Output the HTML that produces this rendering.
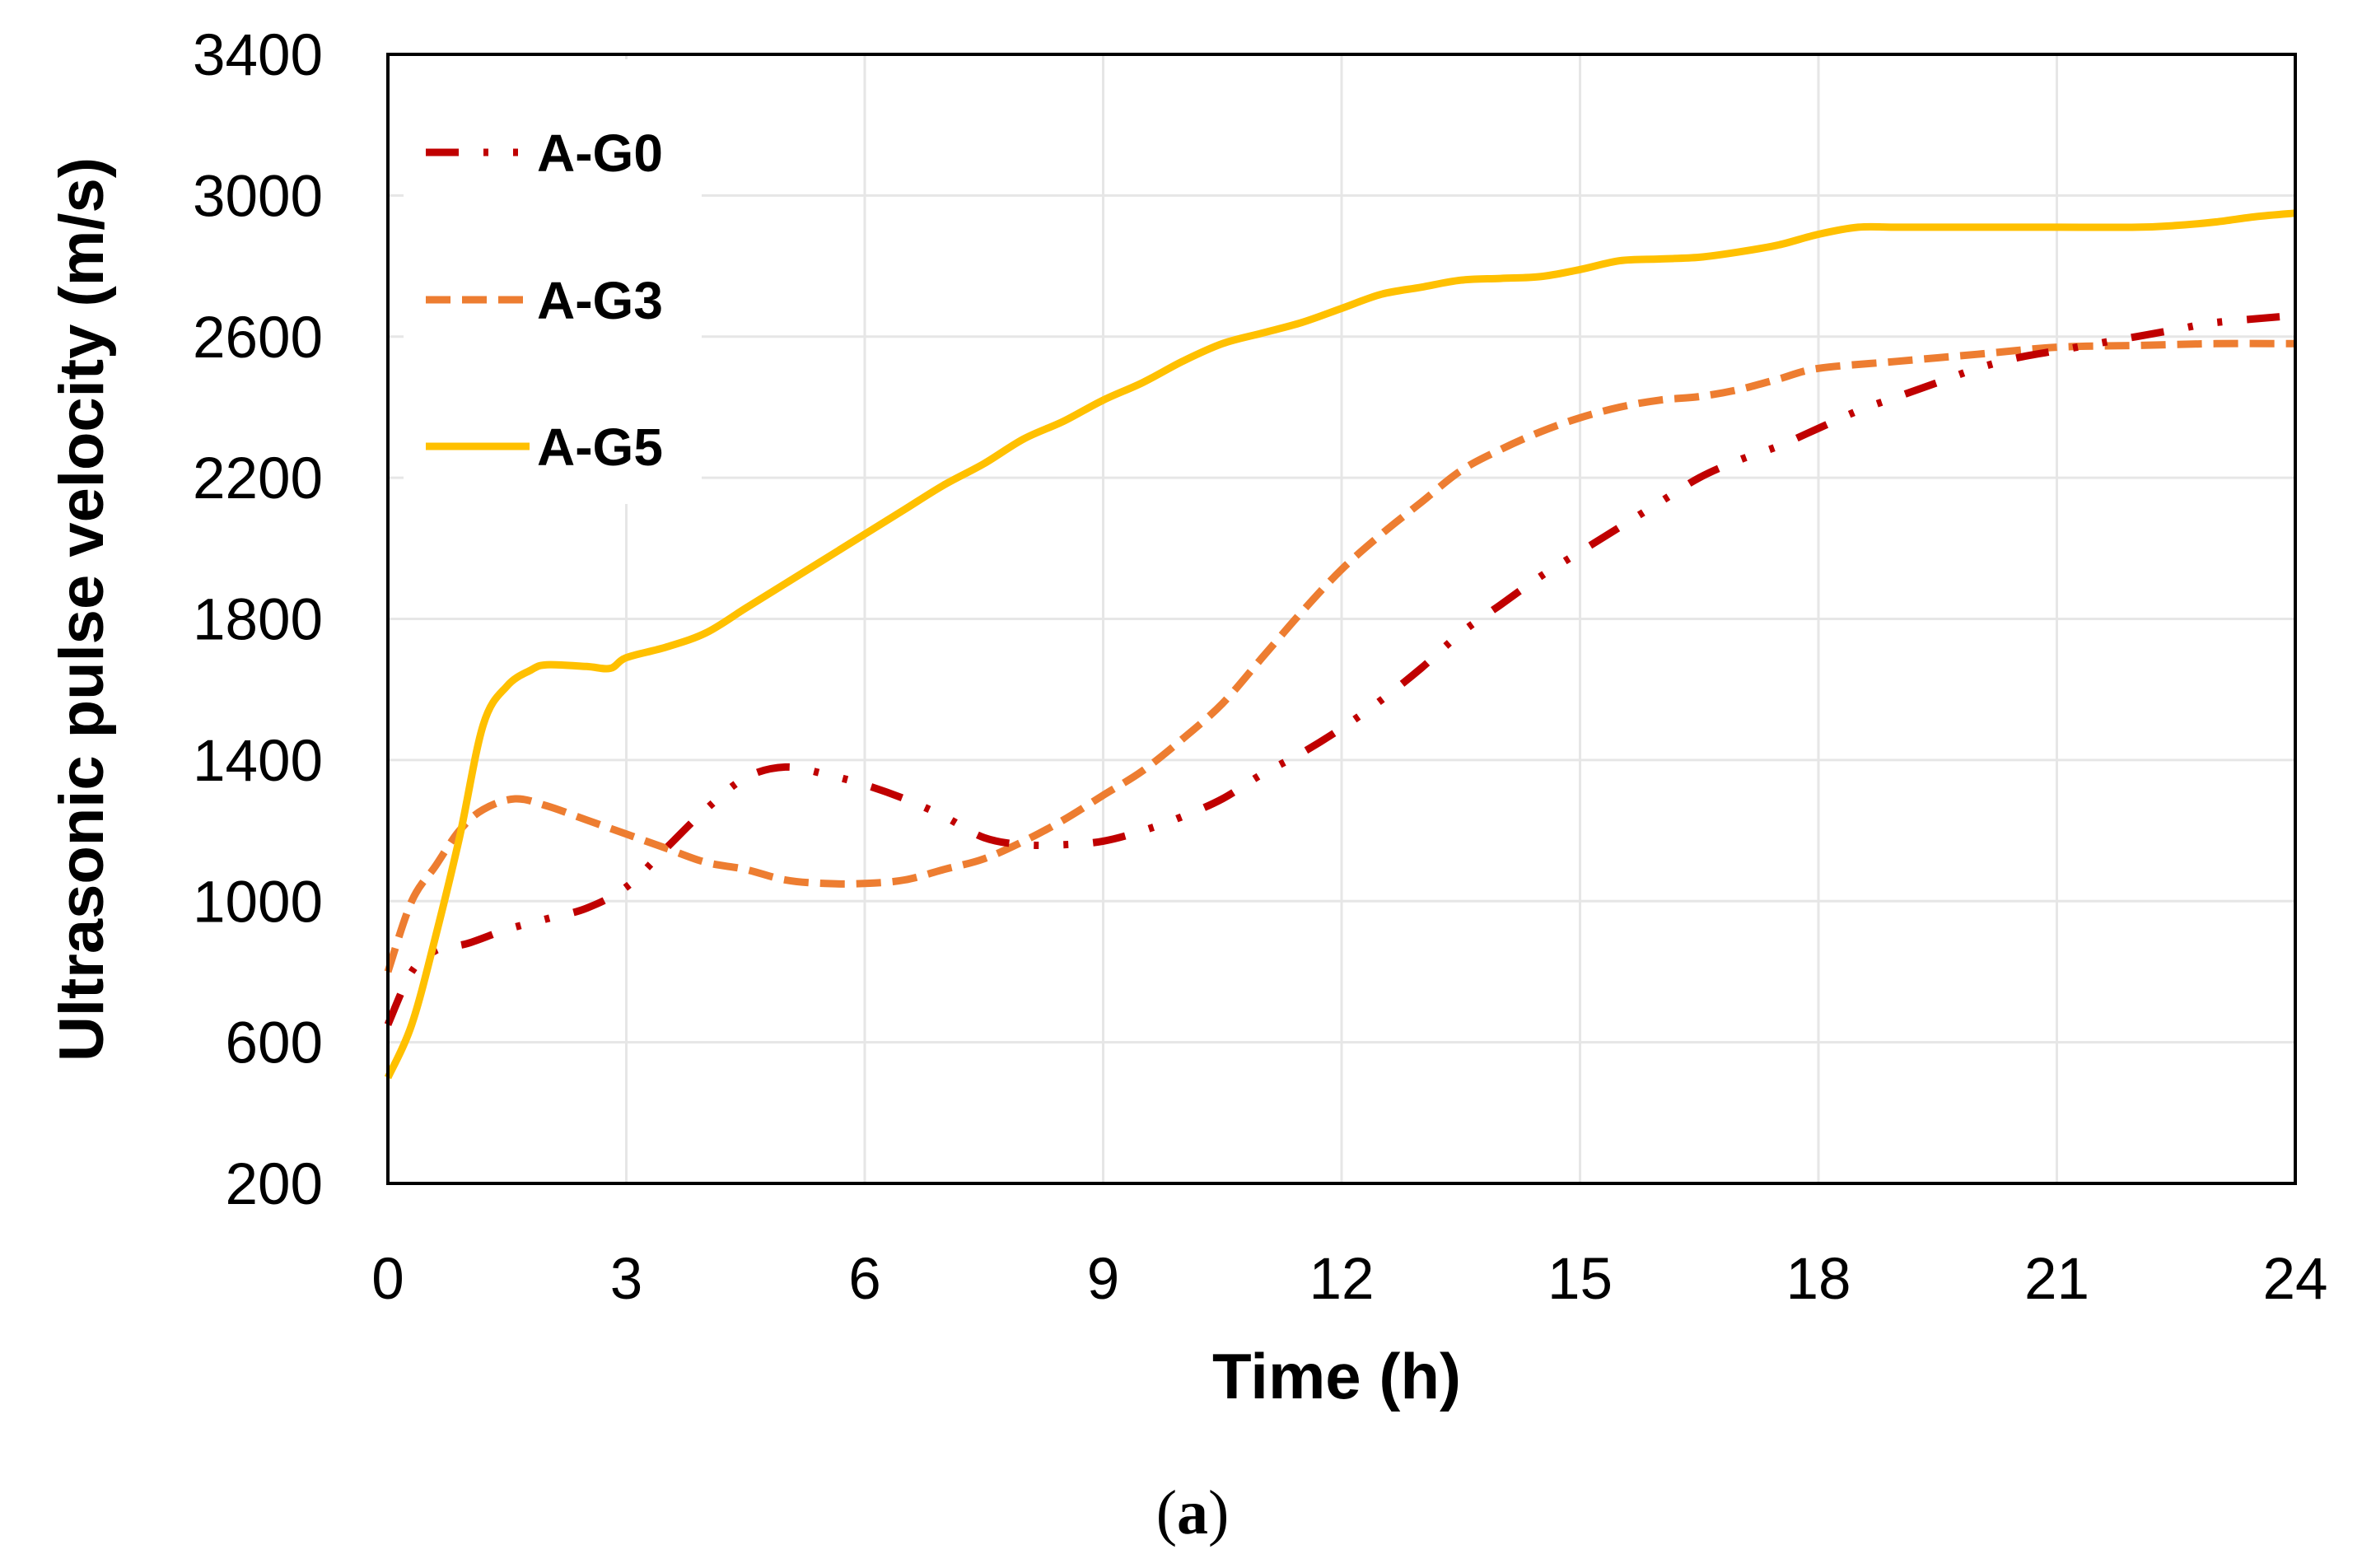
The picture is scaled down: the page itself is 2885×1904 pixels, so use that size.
<!DOCTYPE html>
<html><head><meta charset="utf-8"><style>
html,body{margin:0;padding:0;background:#fff}
svg{display:block}
text{font-family:"Liberation Sans",sans-serif}
</style></head><body>
<svg id="chart" width="2885" height="1904" viewBox="0 0 2885 1904" xmlns="http://www.w3.org/2000/svg">
<g id="grid"></g>
<g id="series"></g>
<rect x="471" y="66" width="2316" height="1371" fill="none" stroke="#000" stroke-width="4"/>
<g id="yticks"></g>
<g id="xticks"></g>
<text transform="translate(125,740) rotate(-90)" text-anchor="middle" font-size="76" font-weight="bold">Ultrasonic pulse velocity (m/s)</text>
<text x="1623" y="1698" text-anchor="middle" font-size="78" font-weight="bold">Time (h)</text>
<text x="1448" y="1862" text-anchor="middle" font-size="76" style="font-family:'Liberation Serif',serif">(<tspan font-weight="bold">a</tspan>)</text>
<g>
<rect x="490" y="72" width="362" height="540" fill="#fff"/>
<g>
<line x1="517" y1="185" x2="650" y2="185" stroke="#C00000" stroke-width="9" stroke-dasharray="40 30 6 30 6 30"/>
<text x="652" y="208" font-size="64" font-weight="bold">A-G0</text></g>
<g>
<line x1="517" y1="364" x2="643" y2="364" stroke="#ED7D31" stroke-width="9" stroke-dasharray="30 14"/>
<text x="652" y="387" font-size="64" font-weight="bold">A-G3</text></g>
<g>
<line x1="517" y1="542" x2="643" y2="542" stroke="#FFC000" stroke-width="9"/>
<text x="652" y="565" font-size="64" font-weight="bold">A-G5</text></g>
</g>
</svg>
<script>
const xTicks=[0,3,6,9,12,15,18,21,24];
const yTicks=[200,600,1000,1400,1800,2200,2600,3000,3400];
const g5T=[0,0.3,0.6,0.9,1.2,1.5,1.8,2,2.5,2.8,3,3.5,4,4.5,5,5.5,6,6.5,7,7.5,8,8.5,9,9.5,10,10.5,11,11.5,12,12.5,13,13.5,14,14.5,15,15.5,16,16.5,17,17.5,18,18.5,19,20,21,22,22.5,23,23.5,24];
const g5V=[500,650,900,1180,1500,1610,1655,1670,1665,1660,1690,1720,1760,1830,1900,1970,2040,2110,2180,2240,2310,2360,2420,2470,2530,2580,2610,2640,2680,2720,2740,2760,2765,2770,2790,2815,2820,2825,2840,2860,2890,2910,2910,2910,2910,2910,2915,2925,2940,2950];
const g3T=[0,0.3,0.6,0.9,1.2,1.6,2,2.5,3,3.5,4,4.5,5,5.5,6,6.5,7,7.5,8,8.5,9,9.5,10,10.5,11,11.5,12,12.5,13,13.5,14,14.5,15,15.5,16,16.5,17,17.5,18,19,20,21,22,23,24];
const g3V=[800,1000,1100,1200,1260,1290,1270,1230,1190,1150,1110,1090,1060,1050,1050,1060,1090,1120,1170,1230,1300,1370,1460,1560,1690,1820,1940,2040,2130,2220,2280,2330,2370,2400,2420,2430,2450,2480,2510,2530,2550,2570,2575,2580,2580];
const g0T=[0,0.3,0.6,1,1.5,2,2.5,3,3.5,4,4.5,5,5.5,6,6.5,7,7.5,8,8.5,9,9.5,10,10.5,11,11.5,12,12.5,13,13.5,14,14.5,15,15.5,16,16.5,17,17.5,18,18.5,19,19.5,20,20.5,21,21.5,22,22.5,23,24];
const g0V=[650,800,860,880,920,950,980,1040,1150,1260,1350,1380,1360,1330,1290,1240,1180,1160,1160,1170,1200,1240,1290,1360,1420,1490,1570,1660,1760,1840,1920,1990,2060,2130,2200,2250,2290,2340,2390,2430,2470,2510,2540,2560,2580,2600,2620,2640,2660];
const L=471,R=2787,T=66,B=1437;
const xs=v=>L+(v-0)/24*(R-L);
const ys=v=>B-(v-200)/3200*(B-T);
const NS='http://www.w3.org/2000/svg';
const grid=document.getElementById('grid'),yt=document.getElementById('yticks'),xt=document.getElementById('xticks'),ser=document.getElementById('series');
yTicks.forEach(v=>{
 const l=document.createElementNS(NS,'line');
 
 
 l.setAttribute('x1',L);l.setAttribute('x2',R);l.setAttribute('y1',ys(v));l.setAttribute('y2',ys(v));
 l.setAttribute('stroke','#e6e6e6');l.setAttribute('stroke-width','3');grid.appendChild(l);
 const t=document.createElementNS(NS,'text');
 
 
 t.setAttribute('x',392);t.setAttribute('y',ys(v)+25);t.setAttribute('text-anchor','end');t.setAttribute('font-size','71');
 t.textContent=v;yt.appendChild(t);
});
xTicks.forEach(v=>{
 const l=document.createElementNS(NS,'line');
 
 
 l.setAttribute('x1',xs(v));l.setAttribute('x2',xs(v));l.setAttribute('y1',T);l.setAttribute('y2',B);
 l.setAttribute('stroke','#e6e6e6');l.setAttribute('stroke-width','3');grid.appendChild(l);
 const t=document.createElementNS(NS,'text');
 
 
 t.setAttribute('x',xs(v));t.setAttribute('y',1577);t.setAttribute('text-anchor','middle');t.setAttribute('font-size','71');
 t.textContent=v;xt.appendChild(t);
});
function draw(tA,vA,color,dash,name){
 const P=tA.map((t,i)=>[xs(t),ys(vA[i])]);
 let d='M'+P[0][0].toFixed(1)+','+P[0][1].toFixed(1);
 for(let i=0;i<P.length-1;i++){
  const p0=P[Math.max(i-1,0)],p1=P[i],p2=P[i+1],p3=P[Math.min(i+2,P.length-1)];
  const c1x=p1[0]+(p2[0]-p0[0])/6,c1y=p1[1]+(p2[1]-p0[1])/6;
  const c2x=p2[0]-(p3[0]-p1[0])/6,c2y=p2[1]-(p3[1]-p1[1])/6;
  d+='C'+c1x.toFixed(1)+','+c1y.toFixed(1)+' '+c2x.toFixed(1)+','+c2y.toFixed(1)+' '+p2[0].toFixed(1)+','+p2[1].toFixed(1);
 }
 const p=document.createElementNS(NS,'path');
 
 
 p.setAttribute('d',d);
 p.setAttribute('fill','none');p.setAttribute('stroke',color);p.setAttribute('stroke-width','9');
 p.setAttribute('stroke-linejoin','round');
 if(dash)p.setAttribute('stroke-dasharray',dash);
 ser.appendChild(p);
}
draw(g3T,g3V,'#ED7D31','30 14','series-a-g3');
draw(g0T,g0V,'#C00000','40 30 6 30 6 30','series-a-g0');
draw(g5T,g5V,'#FFC000',null,'series-a-g5');
</script>
</body></html>
